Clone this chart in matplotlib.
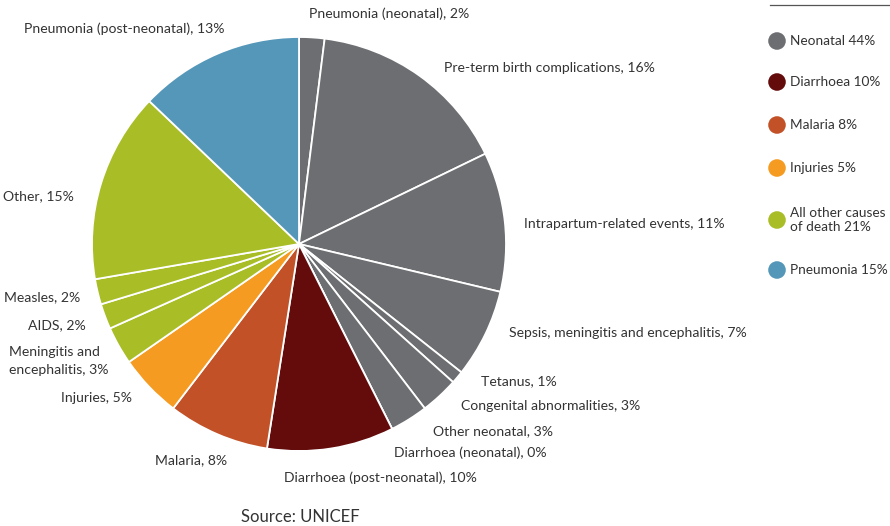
import matplotlib
matplotlib.use("Agg")
import matplotlib.pyplot as plt

# Causes of death, clockwise from 12 o'clock
causes = [
    "Pneumonia (neonatal)", "Pre-term birth complications", "Intrapartum-related events",
    "Sepsis, meningitis and encephalitis", "Tetanus", "Congenital abnormalities",
    "Other neonatal", "Diarrhoea (neonatal)", "Diarrhoea (post-neonatal)", "Malaria",
    "Injuries", "Meningitis and\nencephalitis", "AIDS", "Measles", "Other",
    "Pneumonia (post-neonatal)",
]
shares = [2, 16, 11, 7, 1, 3, 3, 0, 10, 8, 5, 3, 2, 2, 15, 13]
groups = ["neo", "neo", "neo", "neo", "neo", "neo", "neo", "neo",
          "dia", "mal", "inj", "oth", "oth", "oth", "oth", "pne"]

# Group summary shown in the key
group_keys = ["neo", "dia", "mal", "inj", "oth", "pne"]
group_names = ["Neonatal 44%", "Diarrhoea 10%", "Malaria 8%", "Injuries 5%",
               "All other causes\nof death 21%", "Pneumonia 15%"]

palette = {
    "neo": "#6d6e71", "dia": "#640b0c", "mal": "#c25127",
    "inj": "#f59b21", "oth": "#a9bd27", "pne": "#5597b8",
}

W, H = 890, 526
fig = plt.figure(figsize=(W / 100, H / 100), dpi=100)
plt.rcParams["font.family"] = ["Lato", "DejaVu Sans"]

# Pie axes
cx, cy, r = 299, 244, 207
ax = fig.add_axes([(cx - r) / W, (H - cy - r) / H, 2 * r / W, 2 * r / H])
ax.pie(shares, colors=[palette[g] for g in groups], startangle=90, counterclock=False,
       radius=1, wedgeprops=dict(edgecolor="white", linewidth=1.3))
ax.set_xlim(-1, 1)
ax.set_ylim(-1, 1)
ax.set_aspect("equal")
ax.axis("off")

# Overlay in pixel coordinates for labels and key
ov = fig.add_axes([0, 0, 1, 1], zorder=5)
ov.set_xlim(0, W)
ov.set_ylim(H, 0)
ov.axis("off")
ov.patch.set_alpha(0)

txt = "#333333"
fs = 10.1
label_pos = [
    (309, 14, "left"), (444, 68, "left"), (524, 224, "left"), (509, 333, "left"),
    (481, 381, "left"), (461, 406, "left"), (433, 431, "left"), (394, 453, "left"),
    (284, 478, "left"), (227, 460, "right"), (132, 398, "right"), (9, 361, "left"),
    (86, 325, "right"), (80, 297, "right"), (74, 196, "right"), (225, 29, "right"),
]
for name, val, (x, y, ha) in zip(causes, shares, label_pos):
    ov.text(x, y, f"{name}, {val}%", ha=ha, va="center", fontsize=fs, color=txt,
            linespacing=1.5)

ov.text(300, 517, "Source: UNICEF", ha="center", va="center", fontsize=12, color=txt)

# Key
ov.plot([770, 890], [5, 5], color="#555555", linewidth=0.9)
key_y = [41, 82, 125, 168, 220, 270]
for g, name, y in zip(group_keys, group_names, key_y):
    ov.scatter([777], [y], s=160, color=palette[g], edgecolors="none")
    ov.text(790, y, name, ha="left", va="center", fontsize=9.8, color=txt, linespacing=1.2)

fig.savefig("out.png", dpi=100)
